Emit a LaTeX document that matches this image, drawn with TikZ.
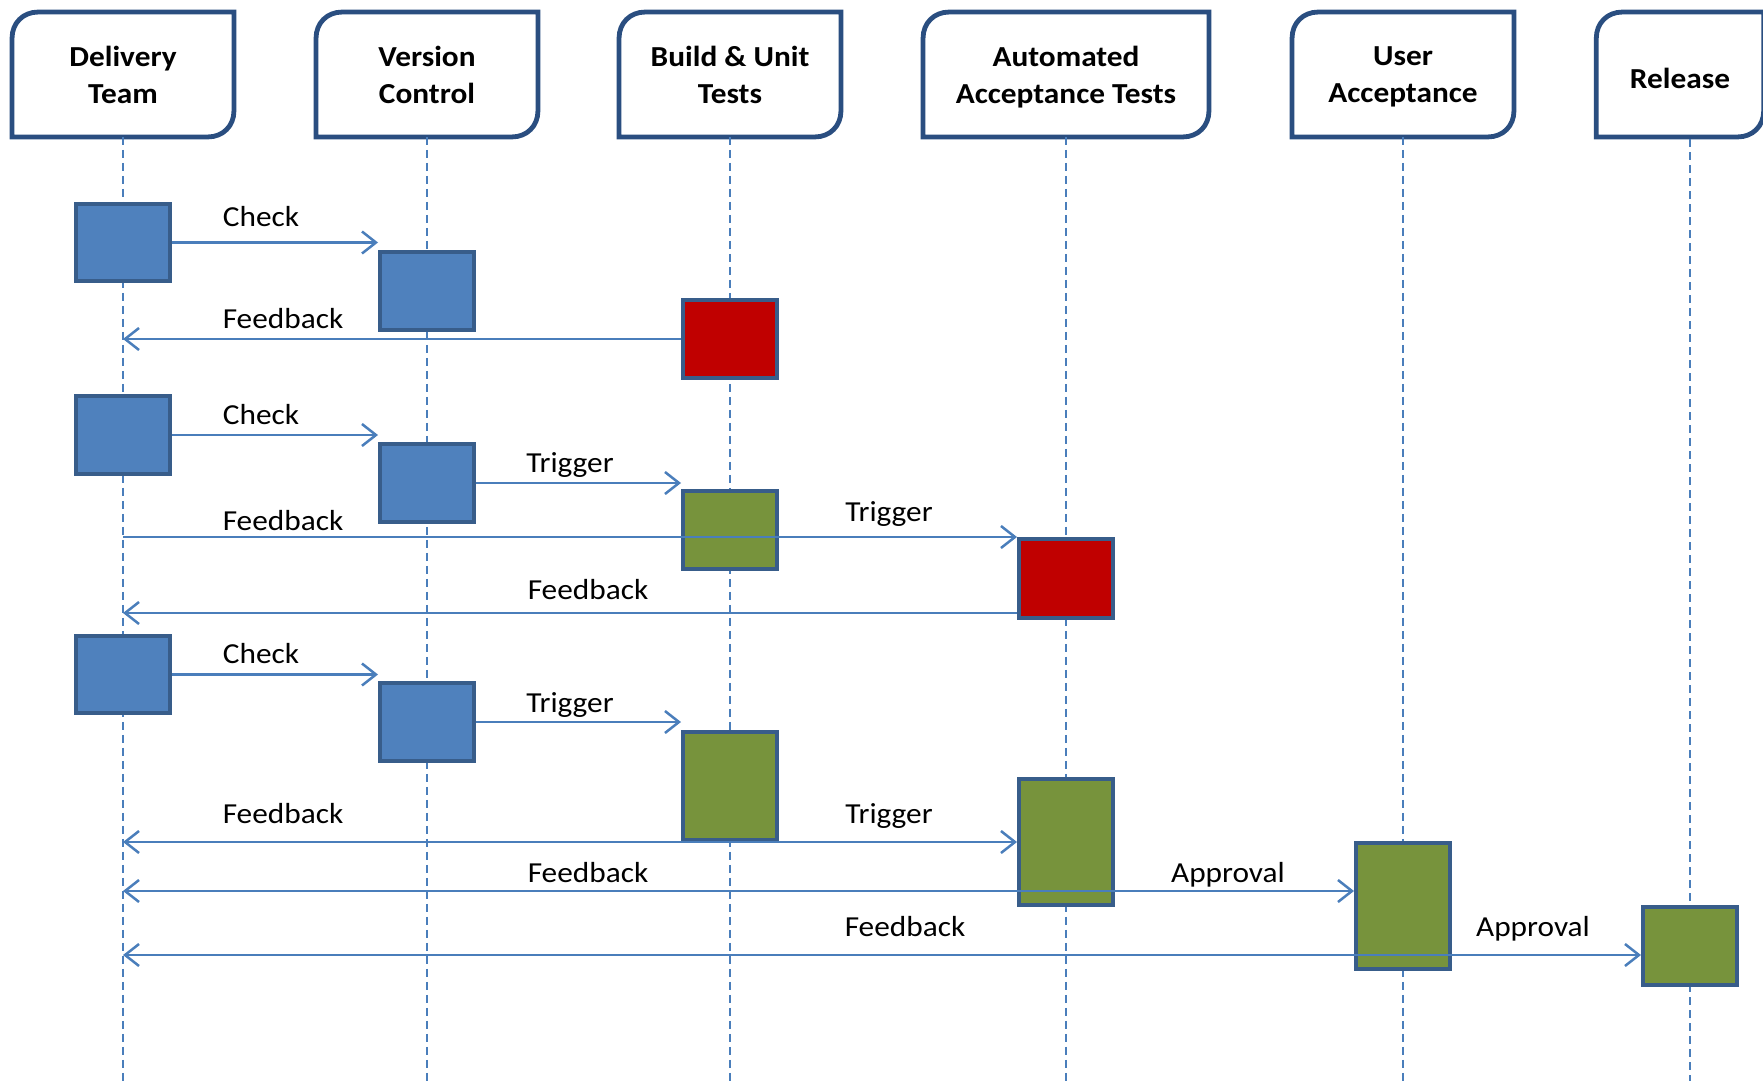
\documentclass[tikz,border=0pt]{standalone}
\usepackage{fontspec}
\setmainfont{Carlito}[FakeStretch=1.08]
\usetikzlibrary{arrows.meta,calc}
\definecolor{hdrc}{HTML}{2A4E80}
\definecolor{actc}{HTML}{385D8A}
\definecolor{lnc}{HTML}{4A7EBB}
\definecolor{bluef}{HTML}{4F81BD}
\definecolor{redf}{HTML}{C00000}
\definecolor{greenf}{HTML}{77933C}
\tikzset{
 hdr/.style={minimum height=124.5pt, minimum width=221.5pt, align=center, font=\fontsize{29}{37}\selectfont\bfseries, inner sep=0pt},
 hdrline/.style={draw=hdrc, line width=4.8pt},
 life/.style={draw=lnc, line width=1.6pt, dash pattern=on 8pt off 5pt},
 act/.style={draw=actc, line width=4pt, minimum width=94pt, minimum height=#1, inner sep=0pt},
 act/.default=77pt,
 msg/.style={draw=lnc, line width=2.5pt},
 fwd/.style={msg, -{Straight Barb[length=14pt,width=22pt]}},
 both/.style={msg, {Straight Barb[length=14pt,width=22pt]}-{Straight Barb[length=14pt,width=22pt]}},
 lbl/.style={font=\fontsize{29}{35}\selectfont, anchor=base, inner sep=0pt},
}
\newcommand\hdroutline[1]{%
 \draw[hdrline] (#1.south west) -- ($(#1.north west)+(0,26)$)
  .. controls ($(#1.north west)+(0,11)$) and ($(#1.north west)+(11,0)$) .. ($(#1.north west)+(26,0)$)
  -- (#1.north east) -- ($(#1.south east)+(0,-26)$)
  .. controls ($(#1.south east)+(0,-11)$) and ($(#1.south east)+(-11,0)$) .. ($(#1.south east)+(-26,0)$)
  -- cycle;}
\begin{document}
\begin{tikzpicture}[x=1pt,y=-1pt]
\path[use as bounding box, fill=white] (0,0) rectangle (1763,1081);
\clip (0,0) rectangle (1763,1081);
\coordinate (bot) at (0,1081);
% headers
\node[hdr] (dt) at (123,74.5) {Delivery\\Team};
\node[hdr] (vc) at (427,74.5) {Version\\Control};
\node[hdr] (bu) at (730,74.5) {Build \& Unit\\Tests};
\node[hdr, minimum width=285.5pt] (aat) at (1066,74.5) {Automated\\\smash{Acceptance Tests}};
\node[hdr] (ua) at (1403,74.5) {User\\\smash{Acceptance}};
\node[hdr, minimum width=167pt] (rl) at (1680,74.5) {\rule{0pt}{28pt}Release};
\foreach \n in {dt,vc,bu,aat,ua,rl}{\hdroutline{\n}}
% lifelines
\coordinate (rlx) at (1690,139);
\foreach \n in {dt,vc,bu,aat,ua}{\draw[life] (\n.south) -- (\n.south |- bot);}
\draw[life] (rlx) -- (rlx |- bot);
% activations
\node[act, fill=bluef] (a1) at (123,242.5) {};
\node[act=78pt, fill=bluef] (b1) at (427,291) {};
\node[act=78pt, fill=redf] (c1) at (730,339) {};
\node[act=78pt, fill=bluef] (a2) at (123,435) {};
\node[act=78pt, fill=bluef] (b2) at (427,483) {};
\node[act=78pt, fill=greenf] (c2) at (730,530) {};
\node[act=79pt, fill=redf] (d2) at (1066,578.5) {};
\node[act, fill=bluef] (a3) at (123,674.5) {};
\node[act=78pt, fill=bluef] (b3) at (427,722) {};
\node[act=108pt, fill=greenf] (c3) at (730,786) {};
\node[act=126pt, fill=greenf] (d3) at (1066,842) {};
\node[act=126pt, fill=greenf] (e3) at (1403,906) {};
\node[act=78pt, fill=greenf] (f3) at (1690,946) {};
% messages
\draw[fwd] (a1.east) -- (a1.east -| b1.west);
\draw[fwd] (c1.west) -- (c1.west -| dt.south);
\draw[fwd] (a2.east) -- (a2.east -| b2.west);
\draw[fwd] (b2.east) -- (b2.east -| c2.west);
\draw[fwd] (d2.north west -| dt.south) -- (d2.north west);
\coordinate (fb3) at ($(d2.south west)+(0,-7)$);
\draw[fwd] (fb3) -- (fb3 -| dt.south);
\draw[fwd] (a3.east) -- (a3.east -| b3.west);
\draw[fwd] (b3.east) -- (b3.east -| c3.west);
\draw[both] (d3.west -| dt.south) -- (d3.west);
\coordinate (r2) at ($(e3.west)+(0,-15)$);
\draw[both] (r2 -| dt.south) -- (r2);
\coordinate (r3) at ($(f3.west)+(0,9)$);
\draw[both] (r3 -| dt.south) -- (r3);
% labels
\node[lbl] (l1) at (261,226) {Check};
\node[lbl] (l2) at (283,328) {Feedback};
\node[lbl] (l3) at (261,424) {Check};
\node[lbl] (l4) at (570,472) {Trigger};
\node[lbl] (l5) at (283,530) {Feedback};
\node[lbl] (l6) at (889,521) {Trigger};
\node[lbl] (l7) at (588,599) {Feedback};
\node[lbl] (l8) at (261,663) {Check};
\node[lbl] (l9) at (570,712) {Trigger};
\node[lbl] (l10) at (283,823) {Feedback};
\node[lbl] (l11) at (889,823) {Trigger};
\node[lbl] (l12) at (588,882) {Feedback};
\node[lbl] (l13) at (1228,882) {Approval};
\node[lbl] (l14) at (905,936) {Feedback};
\node[lbl] (l15) at (1533,936) {Approval};
\end{tikzpicture}
\end{document}
